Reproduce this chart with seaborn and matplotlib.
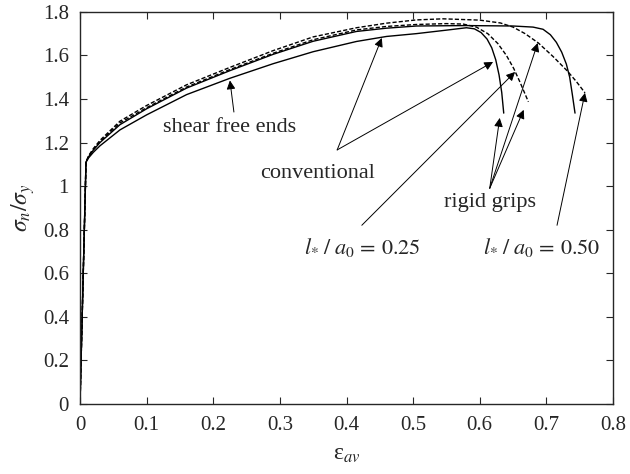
import pandas as pd
import matplotlib
matplotlib.use("Agg")
import matplotlib.pyplot as plt
import seaborn as sns

# curves (strain, normalised stress)
sa_x = [0, 0.009, 0.013, 0.02, 0.03, 0.06, 0.1, 0.16, 0.225, 0.29, 0.35, 0.415, 0.46, 0.505, 0.55, 0.58,
        0.592, 0.602, 0.611, 0.618, 0.624, 0.629, 0.633, 0.636]
sa_y = [0, 1.11, 1.13, 1.155, 1.185, 1.258, 1.327, 1.42, 1.495, 1.562, 1.617, 1.664, 1.687, 1.70, 1.716, 1.727,
        1.722, 1.705, 1.675, 1.635, 1.58, 1.51, 1.43, 1.335]

sb_x = [0, 0.009, 0.013, 0.02, 0.03, 0.06, 0.1, 0.16, 0.225, 0.29, 0.35, 0.415, 0.46, 0.505, 0.58, 0.65, 0.68,
        0.695, 0.706, 0.715, 0.723, 0.73, 0.735, 0.739, 0.743]
sb_y = [0, 1.11, 1.135, 1.165, 1.2, 1.282, 1.355, 1.45, 1.53, 1.605, 1.665, 1.71, 1.725, 1.735, 1.737, 1.735, 1.73,
        1.72, 1.695, 1.66, 1.615, 1.56, 1.5, 1.42, 1.335]

d2_x = [0, 0.009, 0.013, 0.02, 0.03, 0.06, 0.1, 0.16, 0.225, 0.29, 0.35, 0.415, 0.46, 0.505, 0.55, 0.575,
        0.595, 0.612, 0.627, 0.64, 0.651, 0.66, 0.667, 0.673]
d2_y = [0, 1.11, 1.137, 1.168, 1.204, 1.29, 1.36, 1.455, 1.535, 1.61, 1.672, 1.717, 1.733, 1.742, 1.746, 1.744,
        1.73, 1.7, 1.655, 1.6, 1.54, 1.48, 1.43, 1.387]

d1_x = [0, 0.009, 0.013, 0.02, 0.03, 0.06, 0.1, 0.16, 0.225, 0.29, 0.35, 0.415, 0.46, 0.505, 0.545, 0.6, 0.631,
        0.65, 0.668, 0.688, 0.71, 0.731, 0.745, 0.758]
d1_y = [0, 1.11, 1.14, 1.172, 1.21, 1.298, 1.37, 1.465, 1.545, 1.622, 1.685, 1.727, 1.748, 1.763, 1.768, 1.762,
        1.749, 1.73, 1.7, 1.657, 1.595, 1.53, 1.48, 1.428]

curves = [
    ("sa", sa_x, sa_y, "-"),
    ("sb", sb_x, sb_y, "-"),
    ("d2", d2_x, d2_y, "--"),
    ("d1", d1_x, d1_y, "--"),
]

sns.set_style("ticks")
plt.rcParams["font.family"] = ["Liberation Serif", "DejaVu Serif"]
plt.rcParams["mathtext.fontset"] = "stix"

fig, ax = plt.subplots(figsize=(6.3, 4.74), dpi=100)
fig.subplots_adjust(left=0.127, right=0.973, bottom=0.148, top=0.975)

for name, xs, ys, ls in curves:
    df = pd.DataFrame({"x": xs, "y": ys})
    sns.lineplot(data=df, x="x", y="y", ax=ax, color="black", lw=1.0,
                 sort=False, estimator=None)
    if ls == "--":
        ax.lines[-1].set_dashes((3, 1.5))

ax.set_xlim(0, 0.8)
ax.set_ylim(0, 1.8)
ax.set_xticks([0, 0.1, 0.2, 0.3, 0.4, 0.5, 0.6, 0.7, 0.8])
ax.set_yticks([0, 0.2, 0.4, 0.6, 0.8, 1.0, 1.2, 1.4, 1.6, 1.8])
ax.xaxis.set_major_formatter(matplotlib.ticker.FormatStrFormatter("%g"))
ax.yaxis.set_major_formatter(matplotlib.ticker.FormatStrFormatter("%g"))
ax.tick_params(direction="in", top=True, right=True, length=5, width=0.8,
               labelsize=15)
ax.tick_params(axis="x", pad=9)
ax.tick_params(axis="y", pad=8)
for sp in ax.spines.values():
    sp.set_linewidth(1.0)

ax.set_xlabel(r"ε$_{av}$", fontsize=17, labelpad=6)
ax.set_ylabel(r"$\sigma_n/\sigma_y$", fontsize=17, labelpad=4)

arrow = dict(arrowstyle="-|>", color="black", lw=0.7, shrinkA=0, shrinkB=0,
             mutation_scale=13)
fs = 16

def label(text, xy, tips, start):
    ax.text(xy[0], xy[1], text, fontsize=fs, ha="center", va="center")
    for tip in tips:
        ax.annotate("", xy=tip, xytext=start, arrowprops=arrow)

label("shear free ends", (0.225, 1.267), [(0.225, 1.485)], (0.231, 1.34))
label("conventional", (0.356, 1.06), [(0.453, 1.68), (0.62, 1.57)], (0.386, 1.166))
label("rigid grips", (0.615, 0.923), [(0.630, 1.313), (0.666, 1.35), (0.687, 1.657)], (0.615, 0.99))
label(r"$l_{*}\;/\;a_0\,=\,0.25$", (0.423, 0.716), [(0.653, 1.524)], (0.423, 0.82))
label(r"$l_{*}\;/\;a_0\,=\,0.50$", (0.693, 0.716), [(0.758, 1.428)], (0.716, 0.82))

fig.savefig("out.png", dpi=100)
